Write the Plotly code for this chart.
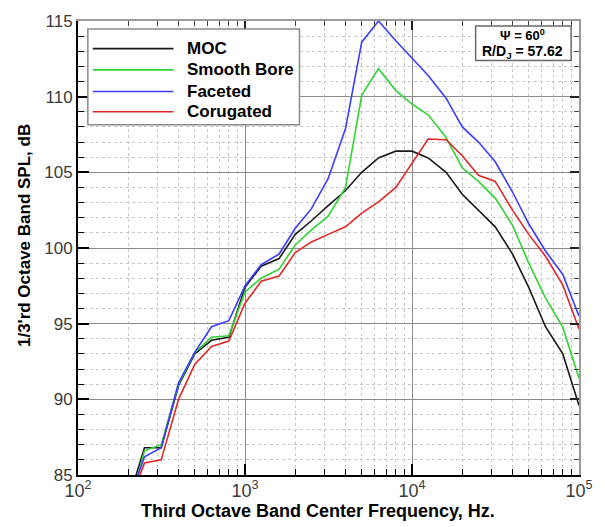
import plotly.graph_objects as go

# Third-octave band centre frequencies (Hz)
freq = [200, 250, 315, 400, 500, 630, 800, 1000, 1250, 1600, 2000, 2500, 3150,
        4000, 5000, 6300, 8000, 10000, 12500, 16000, 20000, 25000, 31500,
        40000, 50000, 63000, 80000, 100000]

# 1/3-octave band SPL (dB) for each nozzle
spl_moc = [83.3, 86.8, 86.8, 90.9, 93.0, 93.9, 94.1, 97.4, 98.8, 99.3, 100.9, 101.8, 102.8,
           103.8, 105.0, 105.95, 106.4, 106.4, 105.95, 105.0, 103.55, 102.5, 101.4,
           99.6, 97.4, 94.8, 93.0, 89.6]
spl_smooth = [82.5, 86.6, 87.0, 91.0, 93.1, 94.1, 94.2, 97.1, 98.0, 98.6, 100.2, 101.2, 102.1,
              104.0, 110.1, 111.85, 110.4, 109.5, 108.8, 107.3, 105.3, 104.4, 103.3,
              101.5, 99.0, 96.7, 94.75, 91.4]
spl_faceted = [83.2, 86.2, 86.8, 91.1, 93.1, 94.8, 95.2, 97.5, 98.9, 99.6, 101.3, 102.6, 104.6,
               107.9, 113.6, 115.0, 113.7, 112.55, 111.4, 109.9, 108.0, 107.0, 105.7,
               103.7, 101.6, 99.8, 98.25, 95.5]
spl_corrugated = [82.9, 85.8, 86.0, 90.0, 92.3, 93.5, 93.85, 96.35, 97.8, 98.15, 99.7, 100.4, 100.9,
                  101.4, 102.3, 103.05, 104.0, 105.6, 107.2, 107.15, 106.1, 104.8, 104.4,
                  102.5, 100.9, 99.45, 97.55, 94.65]

series_names = ["MOC", "Smooth Bore", "Faceted", "Corugated"]
series_values = [spl_moc, spl_smooth, spl_faceted, spl_corrugated]
series_colors = ["#1a1a1a", "#33d233", "#3d3dff", "#e02828"]

x_tickvals = [100, 1000, 10000, 100000]
x_ticktext = ["10<sup>2</sup>", "10<sup>3</sup>", "10<sup>4</sup>", "10<sup>5</sup>"]
x_minorvals = [k * 10 ** e for e in (2, 3, 4) for k in range(2, 10)]
y_tickvals = [85, 90, 95, 100, 105, 110, 115]

FONT = "Liberation Sans, Arial, sans-serif"

# plot-area geometry in pixels
L, R, T, B = 78, 587, 15, 475
W, H = 605, 527


def px(xp):
    return (xp - L) / (R - L)


def py(yp):
    return (B - yp) / (B - T)


fig = go.Figure()
for name, vals, col in zip(series_names, series_values, series_colors):
    fig.add_trace(go.Scatter(x=freq, y=vals, mode="lines", name=name,
                             line=dict(color=col, width=1.6), showlegend=False))

# empty trace so the mirrored top/right axes get drawn
fig.add_trace(go.Scatter(x=[], y=[], xaxis="x2", yaxis="y2", showlegend=False,
                         hoverinfo="skip"))

grid_major = "#8a8a8a"
grid_minor = "#c8c8c8"

fig.update_layout(
    width=W, height=H,
    margin=dict(l=L, r=W - R, t=T, b=H - B),
    paper_bgcolor="white", plot_bgcolor="white",
    font=dict(family=FONT, color="#3a3a3a"),
    xaxis=dict(
        type="log", range=[2, 5],
        tickvals=x_tickvals, ticktext=x_ticktext,
        tickfont=dict(size=18, color="#3a3a3a"),
        ticklabelstandoff=-2,
        ticks="inside", ticklen=11, tickwidth=2, tickcolor="black",
        showline=True, linecolor="black", linewidth=2,
        showgrid=True, gridcolor=grid_major, gridwidth=1.4,
        minor=dict(tickvals=x_minorvals, ticks="inside", ticklen=6, tickwidth=1,
                   tickcolor="black", showgrid=True, gridcolor=grid_minor,
                   griddash="dot", gridwidth=1),
        zeroline=False,
    ),
    yaxis=dict(
        range=[85, 115], tickvals=y_tickvals,
        tickfont=dict(size=17, color="#3a3a3a"),
        ticks="inside", ticklen=11, tickwidth=2, tickcolor="black",
        showline=True, linecolor="black", linewidth=2,
        showgrid=True, gridcolor=grid_major, gridwidth=1.4,
        minor=dict(dtick=1, ticks="inside", ticklen=6, tickwidth=1,
                   tickcolor="black", showgrid=True, gridcolor=grid_minor,
                   griddash="dot", gridwidth=1),
        zeroline=False,
    ),
    xaxis2=dict(
        type="log", range=[2, 5], overlaying="x", side="top", anchor="y2",
        tickvals=x_tickvals, showticklabels=False,
        ticks="inside", ticklen=9, tickwidth=2, tickcolor="#222",
        showline=True, linecolor="#9a9a9a", linewidth=2, showgrid=False,
        minor=dict(tickvals=x_minorvals, ticks="inside", ticklen=5, tickwidth=1,
                   tickcolor="#444", showgrid=False),
        zeroline=False,
    ),
    yaxis2=dict(
        range=[85, 115], overlaying="y", side="right", anchor="x2",
        tickvals=y_tickvals, showticklabels=False,
        ticks="inside", ticklen=9, tickwidth=2, tickcolor="#222",
        showline=True, linecolor="#9a9a9a", linewidth=2, showgrid=False,
        minor=dict(dtick=1, ticks="inside", ticklen=5, tickwidth=1,
                   tickcolor="#444", showgrid=False),
        zeroline=False,
    ),
)

shapes = []
annotations = []

# legend block
shapes.append(dict(type="rect", xref="paper", yref="paper",
                   x0=px(88), x1=px(303), y0=py(120), y1=py(23),
                   line=dict(color="#8a8a8a", width=1.5), fillcolor="white",
                   layer="above"))
legend_rows = [43, 64.5, 86.5, 107]
for name, col, yy in zip(series_names, series_colors, legend_rows):
    shapes.append(dict(type="line", xref="paper", yref="paper",
                       x0=px(93), x1=px(175), y0=py(yy), y1=py(yy),
                       line=dict(color=col, width=1.6), layer="above"))
    annotations.append(dict(xref="paper", yref="paper", x=px(187), y=py(yy),
                            xanchor="left", yanchor="middle", showarrow=False,
                            text=name,
                            font=dict(family=FONT, size=17, color="black",
                                      weight="bold")))

# condition box
shapes.append(dict(type="rect", xref="paper", yref="paper",
                   x0=px(482), x1=px(579), y0=py(55), y1=py(20),
                   line=dict(color="#6a6a6a", width=1.5), fillcolor="white",
                   layer="above"))
annotations.append(dict(xref="paper", yref="paper", x=px(530), y=py(29),
                        xanchor="center", yanchor="middle", showarrow=False,
                        text="Ψ = 60<sup>0</sup>",
                        font=dict(family=FONT, size=13, color="black", weight="bold")))
annotations.append(dict(xref="paper", yref="paper", x=px(530), y=py(46),
                        xanchor="center", yanchor="middle", showarrow=False,
                        text="R/D<sub>J</sub> = 57.62",
                        font=dict(family=FONT, size=14, color="black", weight="bold")))

# axis titles
annotations.append(dict(xref="paper", yref="paper", x=px(322), y=py(511),
                        xanchor="center", yanchor="middle", showarrow=False,
                        text="Third Octave Band Center Frequency, Hz.",
                        font=dict(family=FONT, size=18, color="black", weight="bold")))
annotations.append(dict(xref="paper", yref="paper", x=px(23), y=py(232),
                        xanchor="center", yanchor="middle", showarrow=False,
                        textangle=-90,
                        text="1/3'rd Octave Band SPL, dB",
                        font=dict(family=FONT, size=17, color="black", weight="bold")))

fig.update_layout(shapes=shapes, annotations=annotations)

fig.write_html("out.html")
